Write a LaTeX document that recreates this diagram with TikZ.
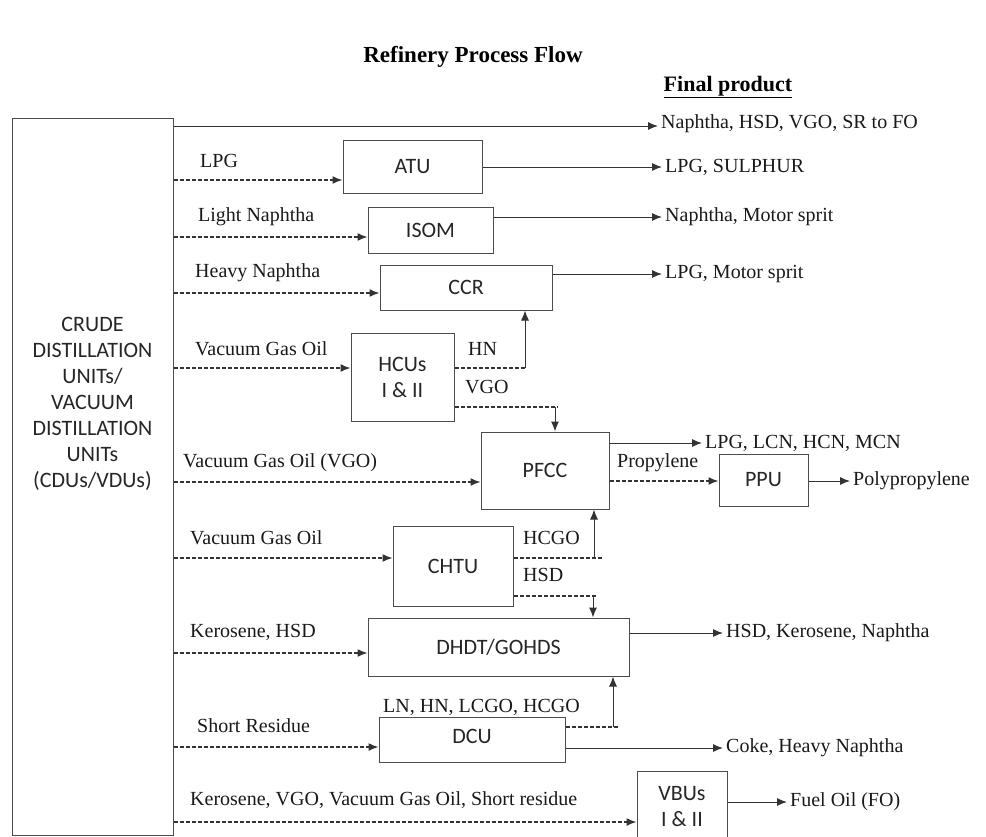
\documentclass[tikz,border=0pt]{standalone}
\usepackage{fontspec}
\setmainfont{Liberation Serif}
\newfontfamily\boxfont{Carlito}
\usetikzlibrary{arrows.meta}
\begin{document}
\begin{tikzpicture}[x=1pt,y=-1pt,
  boxtext/.style={inner sep=0pt, font=\boxfont\fontsize{22}{26}\selectfont, text=black!85, align=center},
  unitbox/.style={boxtext, draw=black!70, line width=1pt},
  lbl/.style={font=\fontsize{20}{24}\selectfont, text=black!90, inner sep=0pt, anchor=west},
  outlbl/.style={lbl, inner sep=3pt},
  flow/.style={draw=black!80, line width=1pt, -{Latex[length=10pt,width=8pt]}},
  dflow/.style={flow, line width=1.4pt, dash pattern=on 4pt off 2pt},
  dline/.style={draw=black!80, line width=1.4pt, dash pattern=on 4pt off 2pt}]
\useasboundingbox (0,0) rectangle (986,836);
\clip (0,0) rectangle (986,836);

% title
\node[font=\bfseries\fontsize{23}{26}\selectfont, inner sep=0pt] (title) at (473,57) {Refinery Process Flow};
\node[font=\bfseries\fontsize{22}{26}\selectfont, inner sep=0pt] (final) at (728,87) {\underline{Final product}};

% units
\node[unitbox, minimum width=161pt, minimum height=717pt] (cdu) at (92.5,476.5) {};
\node[boxtext] (cdutext) at (92.5,403.5) {CRUDE\\DISTILLATION\\UNITs/\\VACUUM\\DISTILLATION\\UNITs\\(CDUs/VDUs)};
\node[unitbox, minimum width=139pt, minimum height=53pt] (atu) at (412.5,166.5) {ATU};
\node[unitbox, minimum width=125pt, minimum height=46pt] (isom) at (430.5,230) {ISOM};
\node[unitbox, minimum width=172pt, minimum height=45pt] (ccr) at (466,287.5) {CCR};
\node[unitbox, minimum width=103pt, minimum height=88pt] (hcu) at (402.5,377) {HCUs\\I \& II};
\node[unitbox, minimum width=128pt, minimum height=77pt] (pfcc) at (545,470.5) {PFCC};
\node[unitbox, minimum width=89pt, minimum height=52pt] (ppu) at (763.5,480) {PPU};
\node[unitbox, minimum width=120pt, minimum height=80pt] (chtu) at (453,566) {CHTU};
\node[unitbox, minimum width=261pt, minimum height=58pt] (dhdt) at (498.5,647) {DHDT/GOHDS};
\node[unitbox, minimum width=186pt, minimum height=45pt] (dcu) at (472,739.5) {};
\node[boxtext] (dcutext) at (472,736) {DCU};
\node[unitbox, minimum width=90pt, minimum height=72pt] (vbu) at (682,807) {VBUs\\I \& II};

% input labels
\node[lbl] (l1) at (200,161) {LPG};
\node[lbl] (l2) at (198,217) {Light Naphtha};
\node[lbl] (l3) at (195,273) {Heavy Naphtha};
\node[lbl] (l4) at (195,349) {Vacuum Gas Oil};
\node[lbl] (l5) at (183,463) {Vacuum Gas Oil (VGO)};
\node[lbl] (l6) at (190,538) {Vacuum Gas Oil};
\node[lbl] (l7) at (190,632) {Kerosene, HSD};
\node[lbl] (l8) at (197,726) {Short Residue};
\node[lbl] (l9) at (190,800) {Kerosene, VGO, Vacuum Gas Oil, Short residue};

% intermediate labels
\node[lbl] (hn) at (468,349) {HN};
\node[lbl] (vgo) at (465,387) {VGO};
\node[lbl] (prop) at (617,463) {Propylene};
\node[lbl] (hcgo) at (523,538) {HCGO};
\node[lbl] (hsd) at (523,575) {HSD};
\node[lbl] (dcuout) at (383,707) {LN, HN, LCGO, HCGO};

% final products
\node[outlbl] (o0) at (658,124) {Naphtha, HSD, VGO, SR to FO};
\node[outlbl] (o1) at (662,167) {LPG, SULPHUR};
\node[outlbl] (o2) at (662,217) {Naphtha, Motor sprit};
\node[outlbl] (o3) at (662,274) {LPG, Motor sprit};
\node[outlbl] (o4) at (702,443) {LPG, LCN, HCN, MCN};
\node[outlbl] (o5) at (850,481) {Polypropylene};
\node[outlbl] (o6) at (723,633) {HSD, Kerosene, Naphtha};
\node[outlbl] (o7) at (723,748) {Coke, Heavy Naphtha};
\node[outlbl] (o8) at (787,802) {Fuel Oil (FO)};

% CDU feeds
\draw[flow] (cdu.east |- 0,126) -- (o0.west |- 0,126);
\draw[dflow] (cdu.east |- 0,180) -- (atu.west |- 0,180);
\draw[dflow] (cdu.east |- 0,237) -- (isom.west |- 0,237);
\draw[dflow] (cdu.east |- 0,293) -- (ccr.west |- 0,293);
\draw[dflow] (cdu.east |- 0,368) -- (hcu.west |- 0,368);
\draw[dflow] (cdu.east |- 0,482) -- (pfcc.west |- 0,482);
\draw[dflow] (cdu.east |- 0,558) -- (chtu.west |- 0,558);
\draw[dflow] (cdu.east |- 0,653) -- (dhdt.west |- 0,653);
\draw[dflow] (cdu.east |- 0,747) -- (dcu.west |- 0,747);
\draw[dflow] (cdu.east |- 0,822) -- (vbu.west |- 0,822);

% unit outputs
\draw[flow] (atu.east |- o1.west) -- (o1.west);
\draw[flow] (isom.east |- o2.west) -- (o2.west);
\draw[flow] (ccr.east |- o3.west) -- (o3.west);
\draw[flow] (pfcc.east |- o4.west) -- (o4.west);
\draw[flow] (ppu.east |- o5.west) -- (o5.west);
\draw[flow] (dhdt.east |- o6.west) -- (o6.west);
\draw[flow] (dcu.east |- o7.west) -- (o7.west);
\draw[flow] (vbu.east |- o8.west) -- (o8.west);

% internal transfers
\draw[dline] (hcu.east |- 0,368) -- (526,368);
\draw[flow] (525,368) -- (525,0 |- ccr.south);
\draw[dline] (hcu.east |- 0,407) -- (558,407);
\draw[flow] (555,407) -- (555,0 |- pfcc.north);
\draw[dflow] (pfcc.east |- 0,481) -- (ppu.west |- 0,481);
\draw[dline] (chtu.east |- 0,558) -- (603,558);
\draw[flow] (594,558) -- (594,0 |- pfcc.south);
\draw[dline] (chtu.east |- 0,596) -- (597,596);
\draw[flow] (593,596) -- (593,0 |- dhdt.north);
\draw[dline] (dcu.east |- 0,727) -- (618,727);
\draw[flow] (613,727) -- (613,0 |- dhdt.south);
\end{tikzpicture}
\end{document}
